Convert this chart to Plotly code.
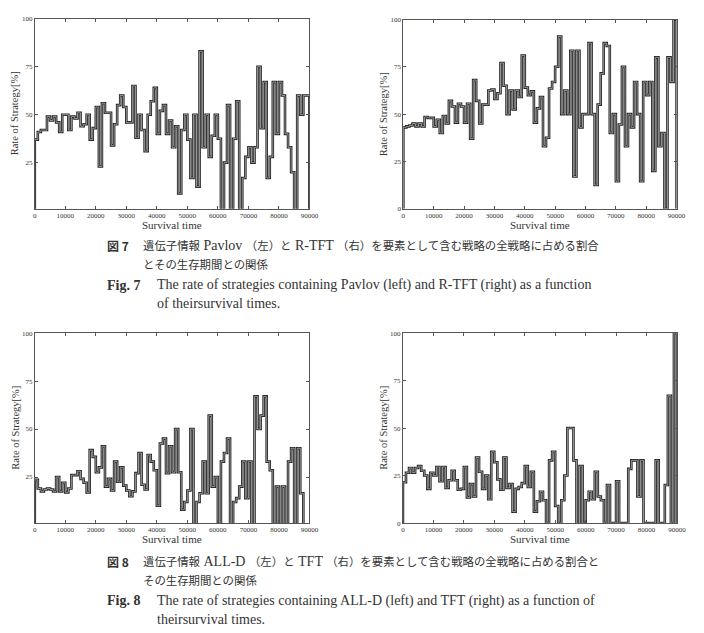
import plotly.graph_objects as go

# bin edges of survival time (1000 wide bins)
BIN_EDGES = list(range(0, 90001, 1000))

pavlov = [37, 41, 42, 42, 49, 47, 49, 46, 41, 50,
          50, 42, 49, 48, 51, 44, 45, 50, 37, 43,
          54, 23, 56, 51, 51, 34, 45, 55, 60, 54,
          46, 46, 65, 38, 50, 42, 31, 50, 57, 64,
          40, 52, 55, 40, 47, 33, 44, 9, 42, 50,
          37, 17, 50, 12.5, 83, 33, 50, 28, 39, 50,
          37.5, 0, 25, 55, 0, 37.5, 57, 0, 17, 28,
          33, 25, 33, 75, 43, 67, 17, 28, 67, 40,
          67, 60, 40, 33, 20, 0, 60, 50, 60, 60]

rtft = [43, 43.5, 44, 45, 43.5, 45, 43.5, 48.5, 48, 48,
        43.5, 47, 40, 49, 45, 57, 54, 45.5, 55.5, 54,
        45.5, 55.5, 37, 68, 57, 45, 55, 55, 62.5, 63,
        58, 61, 77, 65, 50, 62.5, 52.5, 62.5, 59, 81,
        64, 60, 62, 45.5, 53, 59, 33, 37.5, 63.5, 67,
        75, 91, 50, 62.5, 50, 83.5, 17, 83.5, 43, 50,
        50, 87.5, 50, 12.5, 55, 71.5, 87.5, 86, 40, 50,
        14.5, 44.5, 75, 33, 50, 43, 67, 50, 14.5, 67,
        60, 67, 20, 80, 33, 40, 0, 80, 67, 100]

alld = [23.5, 19, 17.5, 18.5, 19, 18.5, 17.5, 25, 17.5, 22,
        17, 19, 26, 26, 28, 24, 22, 17, 39, 35.5,
        27.5, 30, 41, 20, 24, 18, 33, 22.5, 30, 20.5,
        18, 15, 17.5, 27, 37.5, 21, 18.5, 36.5, 33, 28.5,
        10, 42.5, 45, 27, 41, 27.5, 50, 27.5, 8, 12,
        18, 50, 0, 12, 16.5, 33, 16.5, 57, 20, 25,
        0, 33, 37.5, 45, 0, 12, 14, 20, 33, 14,
        33, 0, 67, 50, 57, 67, 33, 28.5, 0, 20,
        0, 20, 0, 33, 40, 0, 40, 16.5, 0, 0]

tft = [21.5, 26.5, 29, 26.5, 29, 30, 27.5, 25, 18, 26.5,
       25, 29.5, 22, 29.5, 18.5, 22.5, 27.5, 22.5, 17.5, 18,
       29.5, 13.5, 20.5, 14, 34.5, 27, 18, 25, 12.5, 37.5,
       32, 23, 17.5, 34.5, 18.5, 20.5, 6, 18, 19, 21,
       30, 19, 27, 6, 11.5, 16.5, 12, 0, 33, 37.5,
       9, 0, 12, 25, 50, 50, 33, 0, 30, 0,
       12, 16.5, 12.5, 27, 14, 12, 0, 20, 0, 0,
       22, 0, 0, 0, 28.5, 33, 33, 14, 33, 0,
       0, 0, 0, 33, 0, 0, 20, 67, 0, 100]

X_TICKS = [0, 10000, 20000, 30000, 40000, 50000, 60000, 70000, 80000, 90000]
X_TICK_TEXT = [str(v) for v in X_TICKS]
Y_TICKS_LEFT = [25, 50, 75, 100]
Y_TICKS_RIGHT = [0, 25, 50, 75, 100]

W, H = 704, 633

panels = [
    ("Pavlov", pavlov, (33.3, 312.3), (15.0, 207.3), [1, 100], Y_TICKS_LEFT),
    ("R-TFT", rtft, (407.7, 685.3), (15.7, 207.3), [0, 100], Y_TICKS_RIGHT),
    ("ALL-D", alld, (33.3, 312.3), (333.3, 525.7), [1, 100], Y_TICKS_LEFT),
    ("TFT", tft, (407.3, 685.7), (333.3, 525.7), [0, 100], Y_TICKS_RIGHT),
]

fig = go.Figure()
SERIF = "Liberation Serif, Times New Roman, serif"
annotations = []

for i, (name, vals, xd, yd, yr, yt) in enumerate(panels):
    idx = "" if i == 0 else str(i + 1)
    xs = [0] + BIN_EDGES[:-1] + [BIN_EDGES[-1], BIN_EDGES[-1]]
    ys = [0] + vals + [vals[-1], 0]
    fig.add_trace(go.Scatter(x=xs, y=ys, mode="lines", line=dict(shape="hv", color="#222222", width=2.6),
                             xaxis="x" + idx, yaxis="y" + idx, showlegend=False, hoverinfo="skip"))
    fig.add_trace(go.Scatter(x=xs, y=ys, mode="lines", line=dict(shape="hv", color="#b4b4b4", width=0.8),
                             xaxis="x" + idx, yaxis="y" + idx, showlegend=False, name=name))
    xdom = [xd[0] / W, xd[1] / W]
    ydom = [1 - yd[1] / H, 1 - yd[0] / H]
    axis_common = dict(showline=True, mirror="ticks", linecolor="#555", linewidth=1,
                       ticks="inside", ticklen=3, tickcolor="#555", showgrid=False, zeroline=False,
                       tickfont=dict(family=SERIF, size=7, color="#333"))
    fig.layout["xaxis" + idx] = dict(domain=xdom, range=[0, 90000], tickvals=X_TICKS, ticktext=X_TICK_TEXT,
                                     anchor="y" + idx, **axis_common)
    fig.layout["yaxis" + idx] = dict(domain=ydom, range=yr, tickvals=yt, ticktext=[str(v) for v in yt],
                                     anchor="x" + idx, **axis_common)
    annotations.append(dict(x=(xd[0] + xd[1]) / 2 / W, y=1 - (yd[1] + 16.5) / H, xref="paper", yref="paper",
                            text="Survival time", showarrow=False, xanchor="center", yanchor="middle",
                            font=dict(family=SERIF, size=11, color="#333")))
    annotations.append(dict(x=(xd[0] - 20.5) / W, y=1 - (yd[0] + yd[1]) / 2 / H, xref="paper", yref="paper",
                            text="Rate of Strategy[%]", showarrow=False, textangle=-90,
                            xanchor="center", yanchor="middle",
                            font=dict(family=SERIF, size=10.5, color="#333")))

CJK = "Noto Sans CJK JP"


def lat(s):
    return '<span style="font-family:Liberation Serif;font-size:14px">' + s + '</span>'


captions = [
    (105, 244.5, "<b>図 7</b>", CJK, 12),
    (140.7, 244.5, "遺伝子情報" + lat(" Pavlov ") + "（左）と" + lat(" R-TFT ") + "（右）を要素として含む戦略の全戦略に占める割合", CJK, 11.4),
    (140.7, 263.5, "とその生存期間との関係", CJK, 11.4),
    (105, 285, "<b>Fig. 7</b>", SERIF, 14),
    (155.7, 285, "The rate of strategies containing Pavlov (left) and R-TFT (right) as a function", SERIF, 14),
    (155.7, 303.5, "of theirsurvival times.", SERIF, 14),
    (105, 564.5, "<b>図 8</b>", CJK, 12),
    (140.7, 564.5, "遺伝子情報" + lat(" ALL-D ") + "（左）と" + lat(" TFT ") + "（右）を要素として含む戦略の全戦略に占める割合と", CJK, 11.4),
    (140.7, 583.5, "その生存期間との関係", CJK, 11.4),
    (105, 604.5, "<b>Fig. 8</b>", SERIF, 14),
    (155.7, 604.5, "The rate of strategies containing ALL-D (left) and TFT (right) as a function of", SERIF, 14),
    (155.7, 623, "theirsurvival times.", SERIF, 14),
]
for x, y, t, f, s in captions:
    annotations.append(dict(x=x / W, y=1 - y / H, xref="paper", yref="paper", text=t, showarrow=False,
                            xanchor="left", yanchor="middle", font=dict(family=f, size=s, color="#333")))

fig.update_layout(width=W, height=H, margin=dict(l=0, r=0, t=0, b=0),
                  paper_bgcolor="white", plot_bgcolor="white", annotations=annotations)

fig.write_html("out.html")
